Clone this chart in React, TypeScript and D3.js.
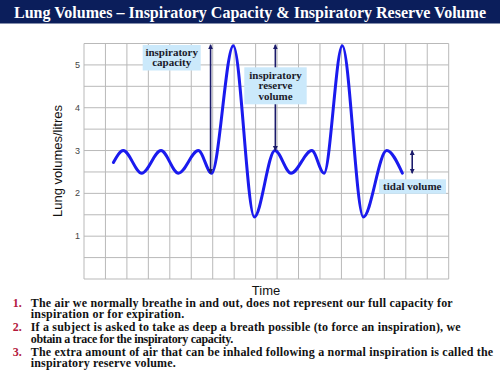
import React from "react";
import * as d3 from "d3";

const TITLE = "Lung Volumes – Inspiratory Capacity & Inspiratory Reserve Volume";
const Y_LABEL = "Lung volumes/litres";
const X_LABEL = "Time";
const Y_TICKS = [1, 2, 3, 4, 5];

// trace: time (grid units) and volume (litres)
const TIME = [1.37, 1.83, 2.69, 3.59, 4.4, 5.33, 5.95, 6.96, 7.94, 8.9, 9.65, 10.62, 11.19, 12.04, 13.02, 14.11, 14.84];
const VOLUME = [2.72, 3.0, 2.47, 3.0, 2.47, 3.0, 2.47, 5.45, 1.45, 3.0, 2.47, 3.0, 2.47, 5.45, 1.45, 3.0, 2.47];

// annotation arrows: [time, fromVolume, toVolume]
const ARROWS: [number, number, number][] = [
  [5.9, 2.47, 5.47],
  [8.92, 3.0, 5.47],
  [15.3, 2.47, 3.0],
];

const NOTES = [
  { num: "1.", lines: ["The air we normally  breathe in and  out, does not represent our full capacity for", "inspiration  or for expiration."] },
  { num: "2.", lines: ["If a subject is asked to take as deep a breath possible  (to force an inspiration),  we", "obtain  a trace for the inspiratory  capacity."] },
  { num: "3.", lines: ["The extra amount  of air that can be inhaled  following  a normal  inspiration  is called the", "inspiratory  reserve volume."] },
];
const NOTE_WIDTHS = [[422, 153.5], [430, 202.5], [462.5, 145]];

export default function App() {
  const x = d3.scaleLinear().domain([0, 17]).range([84, 448.7]);
  const y = d3.scaleLinear().domain([0, 5.5]).range([279, 43.5]);
  const pts: [number, number][] = TIME.map((t, i) => [t, VOLUME[i]]);
  const line = d3
    .line<[number, number]>()
    .x((d) => x(d[0]))
    .y((d) => y(d[1]))
    .curve(d3.curveMonotoneX);

  const vGrid = d3.range(0, 18);
  const hGrid = d3.range(0, 5.51, 0.5);
  const navy = "#1b1b6b";
  const boxFill = "#cbe9fb";
  const serif = "'Liberation Serif', 'Times New Roman', serif";
  const sans = "'Liberation Sans', Arial, sans-serif";

  const baselines = [306.5, 318.2, 331, 343, 355.5, 367];

  return (
    <svg width={500} height={375} style={{ position: "absolute", left: 0, top: 0, background: "#fff" }}>
      <defs>
        <marker id="ah" viewBox="0 0 10 10" refX="9" refY="5" markerWidth="5" markerHeight="6" orient="auto-start-reverse" markerUnits="userSpaceOnUse">
          <path d="M0,0 L10,5 L0,10 z" fill={navy} />
        </marker>
      </defs>
      <rect x={0} y={0} width={500} height={23.5} fill="#0b1e5b" />
      <text x={250} y={18} textAnchor="middle" fill="#fff" fontFamily={serif} fontWeight="bold" fontSize={16} textLength={472} lengthAdjust="spacingAndGlyphs">
        {TITLE}
      </text>

      {/* grid */}
      <g stroke="#b9b9b9" strokeWidth={1}>
        {vGrid.map((g) => (
          <line key={"v" + g} x1={x(g)} x2={x(g)} y1={y(5.5)} y2={y(0)} />
        ))}
        {hGrid.map((g) => (
          <line key={"h" + g} x1={x(0)} x2={x(17)} y1={y(g)} y2={y(g)} />
        ))}
      </g>
      {Y_TICKS.map((t) => (
        <text key={t} x={80} y={y(t) + 3} textAnchor="end" fontFamily={sans} fontSize={9} fill="#444">
          {t}
        </text>
      ))}
      <text transform={`translate(62,161) rotate(-90)`} textAnchor="middle" fontFamily={sans} fontSize={13} fill="#111">
        {Y_LABEL}
      </text>
      <text x={266} y={295} textAnchor="middle" fontFamily={sans} fontSize={13} fill="#111">
        {X_LABEL}
      </text>

      {/* trace */}
      <path d={line(pts) || ""} fill="none" stroke="#1a1aee" strokeWidth={3} strokeLinecap="round" />

      {/* arrows */}
      {ARROWS.map((a, i) => (
        <line key={i} x1={x(a[0])} x2={x(a[0])} y1={y(a[1])} y2={y(a[2])} stroke={navy} strokeWidth={1.6} markerStart="url(#ah)" markerEnd="url(#ah)" />
      ))}

      {/* labels */}
      <g fontFamily={serif} fontWeight="bold" fontSize={11} fill="#1a1a2a" textAnchor="middle">
        <rect x={142.7} y={45} width={58} height={25.5} fill={boxFill} />
        <text x={171.7} y={55.5}>inspiratory</text>
        <text x={171.7} y={66}>capacity</text>

        <rect x={244.3} y={67.3} width={62.4} height={37} fill={boxFill} />
        <text x={275.5} y={78.5}>inspiratory</text>
        <text x={275.5} y={89}>reserve</text>
        <text x={275.5} y={99.5}>volume</text>

        <rect x={379} y={179.3} width={67} height={14.5} fill={boxFill} />
        <text x={412.3} y={189.8}>tidal volume</text>
      </g>

      {/* notes */}
      {NOTES.map((n, i) => (
        <g key={i} fontFamily={serif} fontWeight="bold" fontSize={12}>
          <text x={12.7} y={baselines[i * 2]} fill="#b3183d">{n.num}</text>
          {n.lines.map((l, j) => (
            <text key={j} x={30.7} y={baselines[i * 2 + j]} fill="#121212" textLength={NOTE_WIDTHS[i][j]} lengthAdjust="spacing">
              {l}
            </text>
          ))}
        </g>
      ))}
    </svg>
  );
}
